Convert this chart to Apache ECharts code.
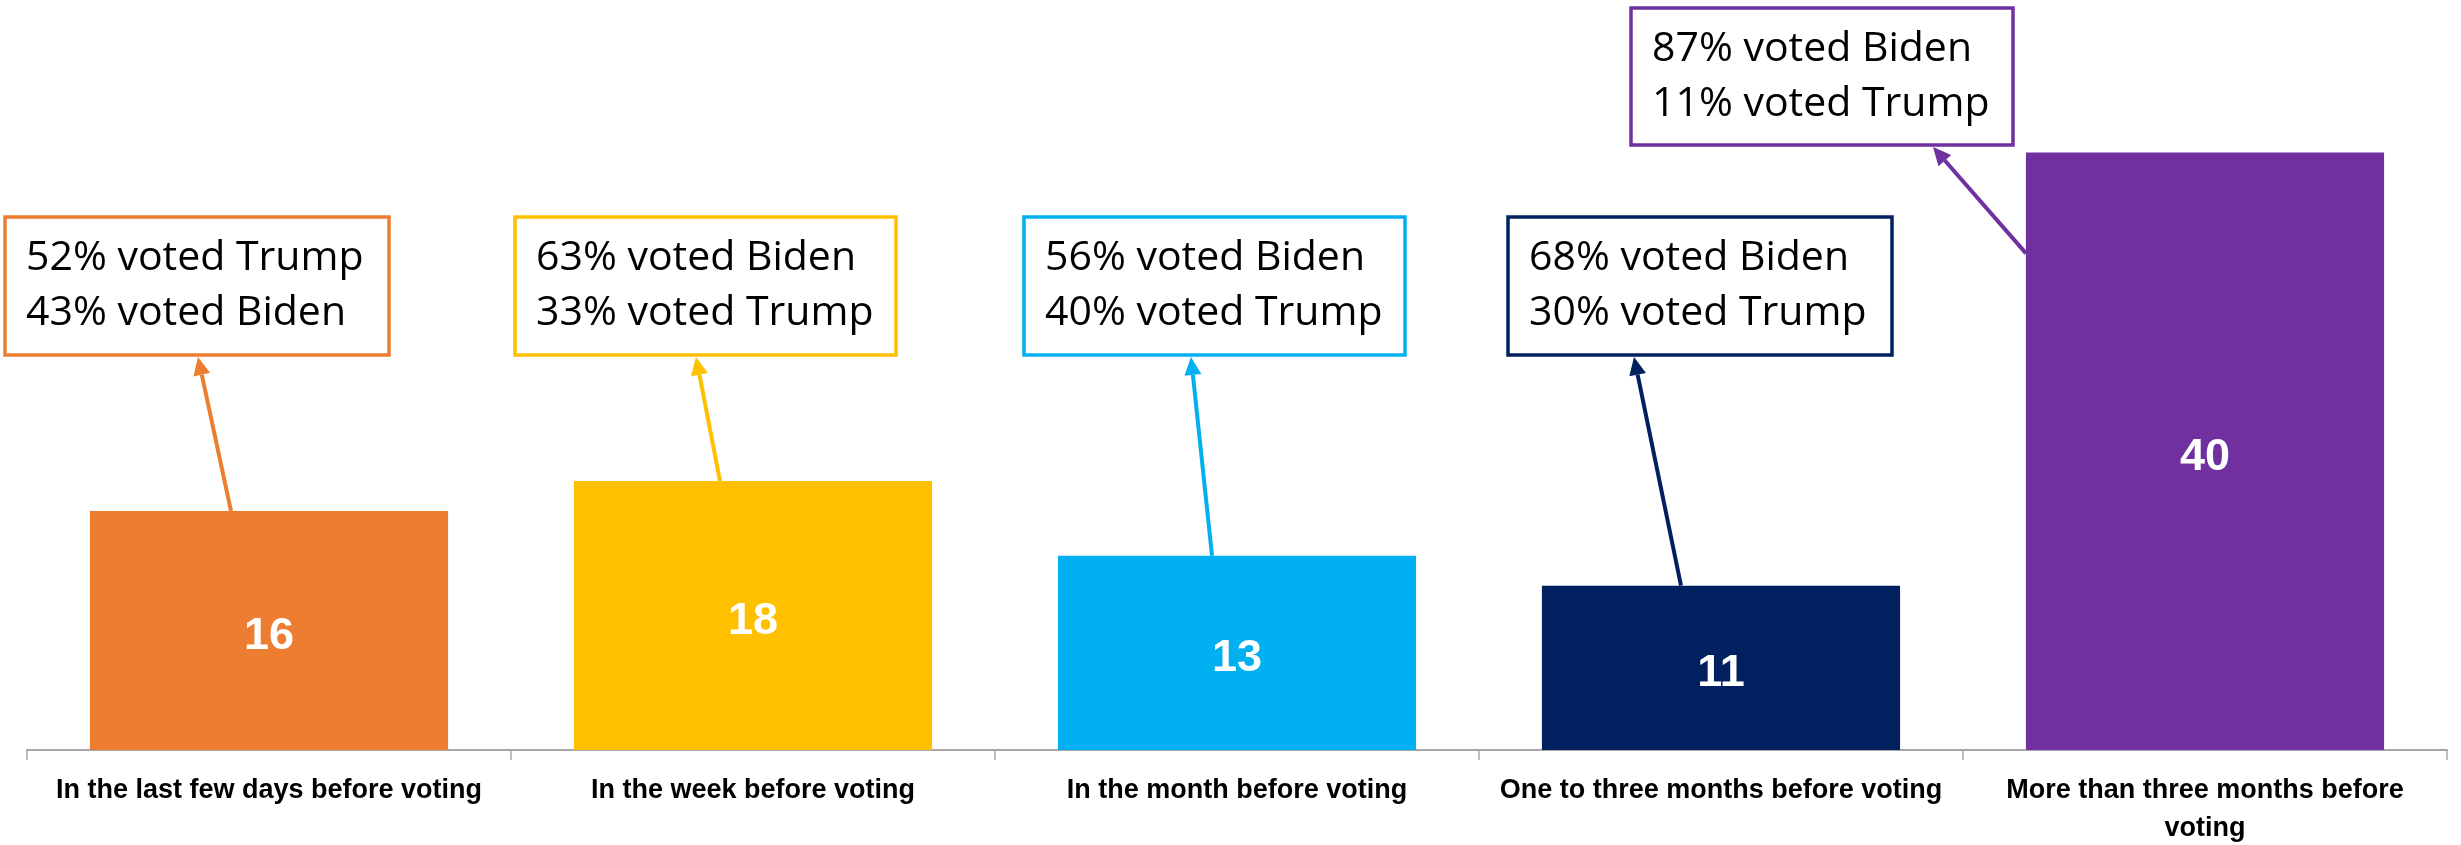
<!DOCTYPE html>
<html>
<head>
<meta charset="utf-8">
<script src="https://cdn.jsdelivr.net/npm/echarts@6/dist/echarts.min.js"></script>
<style>
html,body{margin:0;padding:0;background:#fff;}
#chart{width:2461px;height:845px;}
</style>
</head>
<body>
<div id="chart"></div>
<script>
const categories = [
  'In the last few days before voting',
  'In the week before voting',
  'In the month before voting',
  'One to three months before voting',
  'More than three months before\nvoting'
];
const values = [16, 18, 13, 11, 40];
const barColors = ['#ED7D31', '#FFC000', '#00B0F0', '#002060', '#7030A0'];
const noteLine1 = ['52% voted Trump', '63% voted Biden', '56% voted Biden', '68% voted Biden', '87% voted Biden'];
const noteLine2 = ['43% voted Biden', '33% voted Trump', '40% voted Trump', '30% voted Trump', '11% voted Trump'];

// annotation layout (pixels)
const boxLayout = [
  {x: 5, y: 217, w: 384, h: 138, tipX: 198, tailDx: -38, tailDy: 0},
  {x: 515, y: 217, w: 381, h: 138, tipX: 696, tailDx: -33, tailDy: 0},
  {x: 1024, y: 217, w: 381, h: 138, tipX: 1191, tailDx: -25, tailDy: 0},
  {x: 1508, y: 217, w: 384, h: 138, tipX: 1634, tailDx: -40, tailDy: 0},
  {x: 1631, y: 8, w: 382, h: 137, tipX: 1933, tailDx: -179, tailDy: 101}
];

const chart = echarts.init(document.getElementById('chart'), null, {renderer: 'canvas'});
const option = {
  animation: false,
  backgroundColor: '#ffffff',
  grid: {left: 27, right: 14, top: 3, bottom: 95, containLabel: false, outerBoundsMode: 'none'},
  xAxis: {
    type: 'category',
    data: categories,
    axisLine: {show: true, lineStyle: {color: '#A6A6A6', width: 2}},
    axisTick: {show: true, length: 10, lineStyle: {color: '#A6A6A6', width: 1.5}},
    axisLabel: {
      interval: 0,
      margin: 22,
      color: '#000',
      fontFamily: 'Liberation Sans, Arial, sans-serif',
      fontWeight: 'bold',
      fontSize: 27,
      lineHeight: 38
    }
  },
  yAxis: {type: 'value', min: 0, max: 50, show: false, splitLine: {show: false}},
  series: [{
    type: 'bar',
    barCategoryGap: '26%',
    data: values.map((v, i) => ({value: v, itemStyle: {color: barColors[i]}})),
    label: {
      show: true,
      position: 'inside',
      offset: [0, 6],
      color: '#fff',
      fontFamily: 'Liberation Sans, Arial, sans-serif',
      fontWeight: 'bold',
      fontSize: 45
    }
  }]
};
chart.setOption(option);

const graphics = [];
values.forEach((v, i) => {
  const b = boxLayout[i];
  const col = barColors[i];
  const top = chart.convertToPixel({seriesIndex: 0}, [i, v]);
  const tx = top[0] + b.tailDx, ty = top[1] + b.tailDy;
  const hx = b.tipX, hy = b.y + b.h + 2;
  const dx = hx - tx, dy = hy - ty;
  const len = Math.sqrt(dx * dx + dy * dy);
  const ux = dx / len, uy = dy / len;
  const headLen = 18, headW = 8.5;
  const bx = hx - ux * headLen, by = hy - uy * headLen;
  const px = -uy, py = ux;
  graphics.push({
    type: 'line', z: 100,
    shape: {x1: tx, y1: ty, x2: bx, y2: by},
    style: {stroke: col, lineWidth: 4}
  });
  graphics.push({
    type: 'polygon', z: 100,
    shape: {points: [[hx, hy], [bx + px * headW, by + py * headW], [bx - px * headW, by - py * headW]]},
    style: {fill: col}
  });
  graphics.push({
    type: 'rect', z: 100,
    shape: {x: b.x, y: b.y, width: b.w, height: b.h},
    style: {fill: '#fff', stroke: col, lineWidth: 3.5}
  });
  graphics.push({
    type: 'text', z: 101, x: b.x + 21, y: b.y + 41,
    style: {text: noteLine1[i], fill: '#000', fontFamily: 'Open Sans, sans-serif', fontSize: 41, verticalAlign: 'middle', align: 'left'}
  });
  graphics.push({
    type: 'text', z: 101, x: b.x + 21, y: b.y + 96,
    style: {text: noteLine2[i], fill: '#000', fontFamily: 'Open Sans, sans-serif', fontSize: 41, verticalAlign: 'middle', align: 'left'}
  });
});
chart.setOption({graphic: graphics});
</script>
</body>
</html>
